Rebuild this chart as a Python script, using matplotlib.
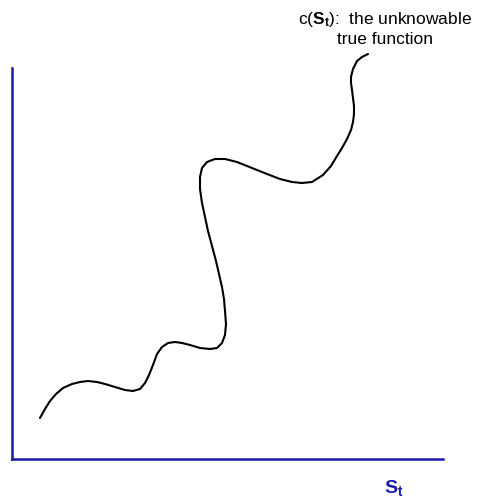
import matplotlib.pyplot as plt

plt.rcParams['font.family'] = ['Liberation Sans', 'DejaVu Sans']
plt.rcParams['mathtext.fontset'] = 'custom'
plt.rcParams['mathtext.rm'] = 'Liberation Sans'
plt.rcParams['mathtext.it'] = 'Liberation Sans:italic'
plt.rcParams['mathtext.bf'] = 'Liberation Sans:bold'

# curve (state on x, cost on y), hand-drawn shape
state = [28, 33, 38, 44, 51, 60, 68, 76, 85, 93, 103, 113, 121, 128, 133, 137,
         141, 145, 150, 156, 163, 170, 178, 188, 198, 205, 210, 213, 214, 213,
         212, 210, 207, 204, 200, 196, 193, 190, 188, 188, 190, 195, 203, 213,
         225, 240, 255, 268, 280, 290, 300, 311, 319, 325, 330, 335, 339, 341,
         342, 342, 341, 340, 339, 339, 341, 345, 350, 356]
cost = [41, 50, 58, 65, 71, 75, 77, 78, 77, 75, 72, 69, 68, 70, 76, 84,
        94, 105, 112, 116, 117, 116, 114, 111, 110, 111, 116, 124, 135, 148,
        160, 172, 185, 198, 213, 228, 242, 256, 270, 282, 291, 297, 300, 300,
        297, 291, 285, 280, 277, 276, 277, 284, 293, 303, 311, 320, 329, 337,
        345, 353, 361, 369, 376, 382, 390, 398, 402, 405]

curve_label = 'c($\\mathbf{S_t}$):  the unknowable\ntrue function'
axis_label = '$\\mathbf{S_t}$'
axis_color = '#1a1aa6'

fig = plt.figure(figsize=(4.8, 5.02), dpi=100)
ax = fig.add_axes([12 / 480, 42 / 502, 431 / 480, 391 / 502])
ax.set_xlim(0, 431)
ax.set_ylim(0, 391)

ax.plot(state, cost, color='black', linewidth=1.5, clip_on=False,
        solid_capstyle='round', solid_joinstyle='round')

for side in ['top', 'right']:
    ax.spines[side].set_visible(False)
for side in ['left', 'bottom']:
    ax.spines[side].set_color(axis_color)
    ax.spines[side].set_linewidth(1.8)
ax.set_xticks([])
ax.set_yticks([])

fig.text(385 / 480, 1 - 10 / 502, curve_label, ha='center', va='top',
         fontsize=12.5, linespacing=1.25)
fig.text(394 / 480, 1 - 488 / 502, axis_label, ha='center', va='center',
         fontsize=14, color=axis_color)

fig.savefig('out.png', dpi=100)
